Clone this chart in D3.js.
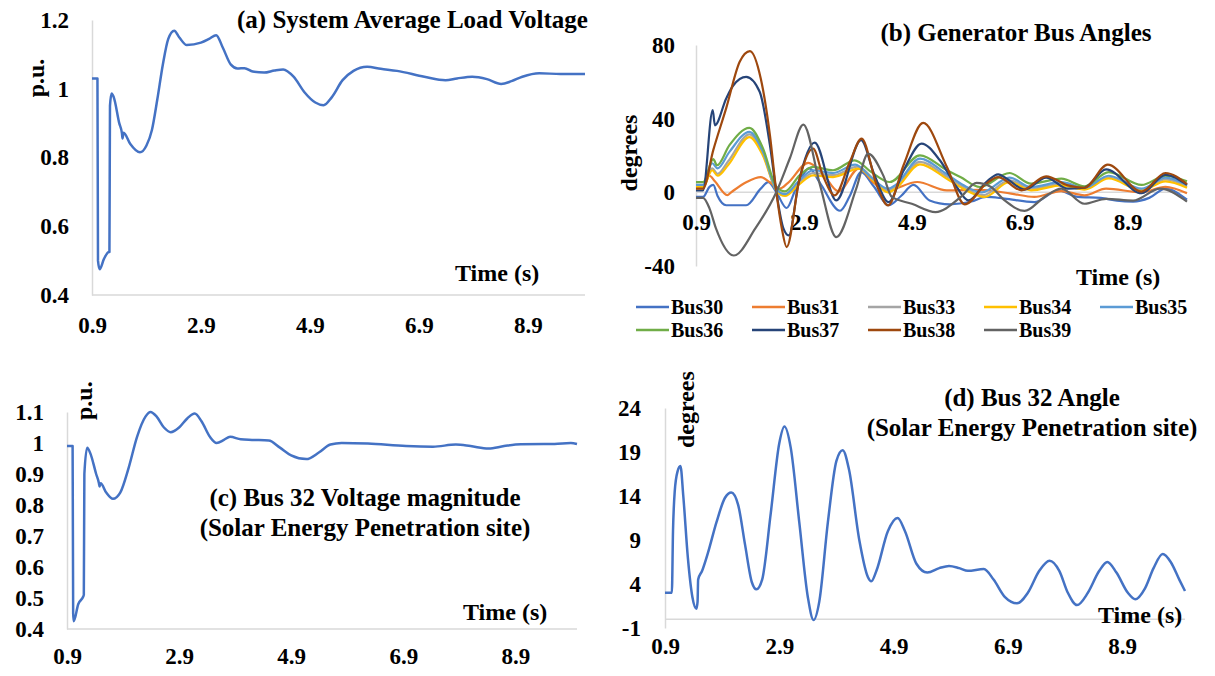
<!DOCTYPE html>
<html>
<head>
<meta charset="utf-8">
<script src="https://cdn.jsdelivr.net/npm/d3@7"></script>
<style>
  body { margin: 0; background: #fff; }
  svg text { font-family: "Liberation Serif", "Times New Roman", serif; font-weight: bold; fill: #000; }
</style>
</head>
<body>
<svg id="chart" width="1215" height="676"></svg>
<script>
// ---- data ----
const timeTicks = [0.9, 2.9, 4.9, 6.9, 8.9];

// (a) system average load voltage, p.u.
const avgVoltTicks = [0.4, 0.6, 0.8, 1, 1.2];
const avgVolt = [
  [0.9,1.03],[1.0,1.03],[1.01,0.5],[1.04,0.475],[1.12,0.505],[1.21,0.525],[1.22,0.525],[1.23,0.95],[1.26,0.986],
  [1.3,0.975],[1.4,0.9],[1.45,0.87],[1.46,0.855],[1.48,0.872],[1.6,0.84],[1.78,0.815],[1.9,0.835],[2.0,0.88],
  [2.1,0.97],[2.2,1.07],[2.3,1.145],[2.41,1.169],[2.5,1.15],[2.64,1.127],[2.9,1.134],[3.05,1.145],[3.18,1.156],
  [3.3,1.12],[3.45,1.07],[3.57,1.059],[3.7,1.06],[3.85,1.05],[4.06,1.047],[4.25,1.053],[4.41,1.056],[4.6,1.035],
  [4.8,0.99],[5.0,0.96],[5.15,0.952],[5.3,0.975],[5.5,1.025],[5.7,1.052],[5.95,1.064],[6.2,1.058],[6.5,1.052],
  [7.0,1.035],[7.39,1.025],[7.6,1.03],[7.88,1.035],[8.15,1.028],[8.41,1.014],[8.6,1.022],[8.8,1.035],[9.11,1.045],
  [9.5,1.043],[9.95,1.043]
];

// (b) generator bus angles, degrees
const angleTicks = [-40, 0, 40, 80];
const busNames  = ["Bus30","Bus31","Bus33","Bus34","Bus35","Bus36","Bus37","Bus38","Bus39"];
const busColors = ["#4472C4","#ED7D31","#A5A5A5","#FFC000","#5B9BD5","#70AD47","#264478","#9E480E","#636363"];
const bus30 = [[0.9,-2.5],[1.03,-2.5],[1.15,3],[1.22,4],[1.3,-2],[1.46,-7],[1.83,-7],[2.1,2],[2.24,5.5],[2.39,0],[2.58,-8.5],[2.75,2],[3.0,13],[3.2,5],[3.57,-10],[3.75,-2],[3.96,11],[4.2,3],[4.47,-7],[4.7,-2],[4.93,4],[5.23,-4.4],[5.6,-6.5],[6.0,-5],[6.28,-2.5],[6.62,-3.4],[7.17,-5.3],[7.61,1],[7.98,-2.5],[8.4,-3],[8.7,-4.5],[9.0,-5],[9.3,-3],[9.6,2],[10,-4]];
const bus31 = [[0.9,2.5],[1.03,2.5],[1.15,9],[1.25,6],[1.48,-1.5],[1.55,0],[1.83,5.5],[2.1,8.3],[2.27,5.5],[2.45,2],[2.6,5],[2.98,16],[3.25,10],[3.54,0.5],[3.92,13],[4.2,5],[4.44,1.1],[5.0,5.6],[5.55,1.1],[6.16,1.3],[6.74,-0.7],[7.17,-2.5],[7.67,0.7],[8.1,-1.6],[8.5,2],[9.16,0],[9.6,3],[10,-0.5]];
const bus33 = [[0.9,3.5],[1.03,3.5],[1.2,13],[1.3,10],[1.5,17],[1.89,31.5],[2.14,21],[2.39,1.2],[2.55,-1.5],[2.8,5],[3.07,10.5],[3.44,9.3],[3.9,14],[4.2,7],[4.46,1],[4.6,3],[5.05,16.5],[5.55,8.5],[5.85,3],[6.22,-1.5],[6.71,6.5],[7.11,2],[7.67,4.5],[8.1,2],[8.55,8],[9.16,1.5],[9.6,7],[10,3]];
const bus34 = [[0.9,3],[1.03,3],[1.2,12],[1.3,9],[1.5,15],[1.89,30],[2.14,20],[2.39,1],[2.55,-2],[2.8,4],[3.07,9.2],[3.44,8.3],[3.92,12.9],[4.2,6],[4.46,0],[4.6,2],[5.05,15.2],[5.55,7.4],[5.85,2],[6.25,-2.5],[6.71,5.6],[7.11,1.1],[7.67,3.8],[8.1,1.5],[8.55,7.5],[9.16,1],[9.6,6],[10,2.5]];
const bus35 = [[0.9,4],[1.03,4],[1.2,15.8],[1.3,13],[1.52,22],[1.89,32.8],[2.14,22],[2.39,1.5],[2.55,-1],[2.8,6],[3.07,12],[3.44,10.5],[3.85,15],[4.15,8],[4.46,2],[4.6,4],[5.05,18.3],[5.55,9.8],[5.85,4],[6.2,0],[6.71,8],[7.11,2.9],[7.67,5.5],[8.1,2.5],[8.55,9],[9.16,2],[9.6,8],[10,4]];
const bus36 = [[0.9,5.5],[1.03,5.5],[1.22,18],[1.29,14.7],[1.52,25.6],[1.89,35],[2.14,24],[2.39,3],[2.55,0.5],[2.82,9.2],[3.07,13.8],[3.44,12],[3.84,17.4],[4.15,11],[4.49,5.6],[5.05,20.1],[5.55,12],[5.8,8.3],[6.16,2.9],[6.71,10.5],[7.11,4.7],[7.67,7.4],[8.1,3.3],[8.55,11],[9.16,4],[9.6,9],[10,6]];
const bus37 = [[0.9,1],[1.03,1],[1.21,44.6],[1.25,36.4],[1.46,51],[1.59,58],[1.83,62.7],[2.08,54.6],[2.27,25.6],[2.39,0],[2.52,-19.6],[2.62,-23.4],[2.8,5],[3.1,27],[3.5,-4.4],[3.96,28.3],[4.2,10],[4.47,-5.3],[4.75,12],[5.08,26.5],[5.42,17.4],[5.73,2.9],[5.95,-4.4],[6.28,5.6],[6.5,9.8],[6.68,7],[6.99,1.5],[7.39,8],[7.79,2],[8.1,2.5],[8.5,12.5],[9.16,-0.5],[9.6,9.5],[10,4]];
const bus38 = [[0.9,2],[1.03,2],[1.22,22.9],[1.46,45.7],[1.71,70.9],[1.9,76.7],[2.1,61.8],[2.27,31],[2.39,0],[2.49,-19.5],[2.58,-29.7],[2.82,7.4],[3.07,23.8],[3.25,9.2],[3.47,-1.6],[3.75,16.5],[3.97,29.2],[4.25,3.8],[4.46,-7.1],[4.75,15],[5.11,37.7],[5.55,13.8],[5.88,-6.5],[6.28,4.7],[6.5,8.3],[6.93,1.1],[7.39,8.7],[7.79,3.8],[8.1,2.5],[8.53,15],[9.16,0.4],[9.6,10.5],[10,4.5]];
const bus39 = [[0.9,-3],[1.03,-3],[1.15,-8.7],[1.27,-19.6],[1.6,-34.3],[2.0,-19.6],[2.39,0.2],[2.64,18.5],[2.89,36.8],[3.2,3.8],[3.5,-24.3],[3.87,2],[4.09,21],[4.37,9.2],[4.53,-2.5],[4.9,-6.2],[5.34,-10.7],[5.81,-2.5],[6.1,5.1],[6.36,3],[6.62,-4.4],[6.99,-10.1],[7.36,-2.5],[7.67,2],[8.1,-6.2],[8.5,-3.5],[9.0,-4.5],[9.5,2],[10,-5]];
const busSeries = [bus30, bus31, bus33, bus34, bus35, bus36, bus37, bus38, bus39];

// (c) bus 32 voltage magnitude, p.u.
const bus32VoltTicks = [0.4, 0.5, 0.6, 0.7, 0.8, 0.9, 1, 1.1];
const bus32Volt = [
  [0.9,0.99],[1.0,0.99],[1.01,0.45],[1.02,0.425],[1.1,0.48],[1.19,0.505],[1.2,0.51],[1.21,0.9],[1.26,0.985],
  [1.32,0.965],[1.42,0.9],[1.47,0.87],[1.48,0.86],[1.5,0.87],[1.6,0.84],[1.72,0.82],[1.85,0.84],[2.0,0.92],
  [2.15,1.02],[2.3,1.085],[2.39,1.1],[2.5,1.085],[2.63,1.05],[2.75,1.035],[2.9,1.05],[3.05,1.08],[3.18,1.095],
  [3.3,1.07],[3.45,1.02],[3.57,1.0],[3.7,1.01],[3.81,1.02],[4.0,1.012],[4.2,1.01],[4.5,1.008],[4.7,0.985],
  [4.9,0.96],[5.17,0.948],[5.4,0.97],[5.6,0.995],[5.8,1.0],[6.27,0.998],[6.95,0.99],[7.43,0.988],[7.84,0.995],
  [8.1,0.99],[8.42,0.982],[8.7,0.99],[9.0,0.996],[9.6,0.997],[9.89,1.0],[10,0.997]
];

// (d) bus 32 angle, degrees
const bus32AngleTicks = [-1, 4, 9, 14, 19, 24];
const bus32Angle = [
  [0.9,3],[1.02,3],[1.04,10],[1.07,14.5],[1.12,16.8],[1.17,17.4],[1.22,14],[1.3,7],[1.38,2.5],[1.45,1.2],
  [1.47,2],[1.48,4.5],[1.55,5.5],[1.65,7.5],[1.8,11],[1.95,13.8],[2.06,14.4],[2.18,13],[2.3,8.5],[2.42,4.2],
  [2.5,3.4],[2.6,4.5],[2.75,12],[2.9,20],[2.99,21.9],[3.1,19.5],[3.25,11],[3.4,2.5],[3.5,-0.1],[3.6,2],
  [3.75,11],[3.9,18],[4.01,19.2],[4.12,17],[4.3,9],[4.45,4.8],[4.51,4.3],[4.6,5.5],[4.8,10],[4.97,11.5],
  [5.1,10],[5.3,6.3],[5.49,5.3],[5.7,5.8],[5.87,6.05],[6.05,5.8],[6.2,5.5],[6.48,5.7],[6.65,4.5],[6.85,2.5],
  [7.06,1.8],[7.25,3],[7.45,5.5],[7.63,6.65],[7.8,5.5],[7.95,3],[8.11,1.6],[8.3,3],[8.5,5.5],[8.64,6.5],
  [8.8,5.3],[9.0,3],[9.13,2.26],[9.3,3.5],[9.45,5.8],[9.61,7.4],[9.75,6.5],[9.9,4.5],[10,3.2]
];

// ---- drawing ----
const svg = d3.select("#chart");
const axisGrey = "#d9d9d9";
const lineBlue = "#4472C4";

function drawPanel(opt) {
  const g = svg.append("g");
  const x = d3.scaleLinear().domain(opt.xDomain).range(opt.xRange);
  const y = d3.scaleLinear().domain(opt.yDomain).range(opt.yRange);

  // y axis
  const ya = g.append("g")
    .attr("transform", "translate(" + opt.xRange[0] + ",0)")
    .call(d3.axisLeft(y).tickValues(opt.yTicks).tickSize(0).tickPadding(opt.yPad).tickFormat(d => String(d)));
  ya.select(".domain").attr("stroke", axisGrey).attr("stroke-width", 1.5);
  ya.selectAll("text").style("font-size", opt.tickSize + "px");

  // horizontal axis line
  g.append("line")
    .attr("x1", opt.xRange[0]).attr("x2", opt.xRange[1])
    .attr("y1", y(opt.lineAt)).attr("y2", y(opt.lineAt))
    .attr("stroke", axisGrey).attr("stroke-width", 1.5);

  // time labels
  const xa = g.append("g")
    .attr("transform", "translate(0," + y(opt.labelAt) + ")")
    .call(d3.axisBottom(x).tickValues(timeTicks).tickSize(0).tickPadding(opt.xPad).tickFormat(d => d.toFixed(1)));
  xa.select(".domain").remove();
  xa.selectAll("text").style("font-size", opt.tickSize + "px");

  const line = d3.line()
    .x(d => x(d[0]))
    .y(d => y(d[1]))
    .curve(d3.curveMonotoneX);

  opt.series.forEach((s, i) => {
    g.append("path")
      .datum(s)
      .attr("fill", "none")
      .attr("stroke", opt.colors[i])
      .attr("stroke-width", opt.strokeWidth)
      .attr("stroke-linejoin", "round")
      .attr("d", line);
  });
  return g;
}

function label(txt, x, y, size, anchor, rotate) {
  const t = svg.append("text")
    .attr("font-size", size)
    .attr("text-anchor", anchor || "start")
    .text(txt);
  if (rotate) t.attr("transform", "translate(" + x + "," + y + ") rotate(-90)");
  else t.attr("x", x).attr("y", y);
  return t;
}

// (a)
drawPanel({
  xDomain: [0.9, 9.95], xRange: [92, 585],
  yDomain: [0.4, 1.2], yRange: [295, 20],
  yTicks: avgVoltTicks, yPad: 23, xPad: 22, tickSize: 23,
  lineAt: 0.4, labelAt: 0.4,
  series: [avgVolt], colors: [lineBlue], strokeWidth: 2.5
});
label("(a) System Average Load Voltage", 237, 28, 25);
label("p.u.", 44, 78, 24, "middle", true);
label("Time (s)", 455, 281, 24);

// (b)
drawPanel({
  xDomain: [0.9, 10], xRange: [696, 1187],
  yDomain: [-40, 80], yRange: [266, 45],
  yTicks: angleTicks, yPad: 21, xPad: 21, tickSize: 23,
  lineAt: 0, labelAt: 0,
  series: busSeries, colors: busColors, strokeWidth: 2.2
});
label("(b) Generator Bus Angles", 1016, 41, 25, "middle");
label("degrees", 637, 153, 24, "middle", true);
label("Time (s)", 1076, 285, 24);

// legend
const legend = svg.append("g");
busNames.forEach((name, i) => {
  const col = i % 5, row = Math.floor(i / 5);
  const lx = 636 + col * 116, ly = 307 + row * 23;
  legend.append("line")
    .attr("x1", lx).attr("x2", lx + 33).attr("y1", ly).attr("y2", ly)
    .attr("stroke", busColors[i]).attr("stroke-width", 2.5);
  legend.append("text")
    .attr("x", lx + 35).attr("y", ly + 7)
    .attr("font-size", 20)
    .text(name);
});

// (c)
drawPanel({
  xDomain: [0.9, 10], xRange: [67, 577],
  yDomain: [0.4, 1.1], yRange: [629, 412],
  yTicks: bus32VoltTicks, yPad: 23, xPad: 19, tickSize: 23,
  lineAt: 0.4, labelAt: 0.4,
  series: [bus32Volt], colors: [lineBlue], strokeWidth: 2.5
});
label("(c) Bus 32 Voltage magnitude", 365, 506, 25, "middle");
label("(Solar Energy Penetration site)", 365, 536, 25, "middle");
label("p.u.", 92, 420, 24, "start", true);
label("Time (s)", 463, 620, 24);

// (d)
drawPanel({
  xDomain: [0.9, 10], xRange: [665, 1185],
  yDomain: [-1, 24], yRange: [628, 408],
  yTicks: bus32AngleTicks, yPad: 24, xPad: 10, tickSize: 23,
  lineAt: 0, labelAt: -1,
  series: [bus32Angle], colors: [lineBlue], strokeWidth: 2.5
});
label("(d) Bus 32 Angle", 1032, 406, 25, "middle");
label("(Solar Energy Penetration site)", 1032, 436, 25, "middle");
label("degrees", 694, 448, 24, "start", true);
label("Time (s)", 1098, 623, 24);
</script>
</body>
</html>
